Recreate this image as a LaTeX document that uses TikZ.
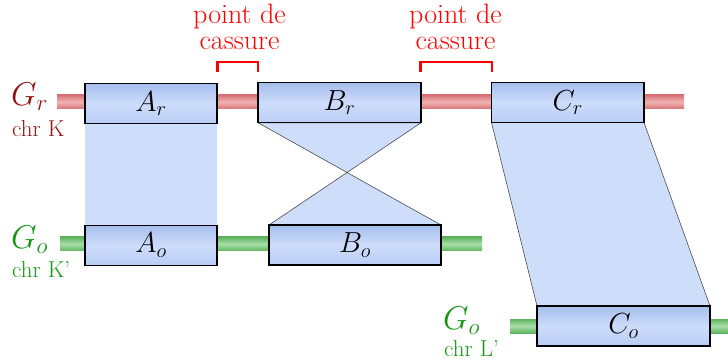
\RequirePackage{fix-cm}
\documentclass[tikz,border=0pt]{standalone}
\usepackage{tikz}
\definecolor{boxtop}{RGB}{165,190,238}
\definecolor{boxmid}{RGB}{205,220,250}
\definecolor{boxbot}{RGB}{185,205,245}
\definecolor{synfill}{RGB}{206,221,250}
\definecolor{redtop}{RGB}{215,115,120}
\definecolor{redmid}{RGB}{240,178,178}
\definecolor{grtop}{RGB}{95,180,95}
\definecolor{grmid}{RGB}{170,222,170}
\definecolor{darkred}{RGB}{145,20,20}
\definecolor{darkgreen}{RGB}{20,150,20}
\tikzset{
  gbox/.style={draw=black, line width=1.2pt, inner sep=0pt, outer sep=0pt,
    minimum height=40pt, top color=boxtop, bottom color=boxbot, middle color=boxmid,
    font=\fontsize{29}{29}\selectfont},
  ghost/.style={inner sep=0pt, outer sep=0pt, minimum height=40pt},
  synt/.style={fill=synfill, draw=black!70, line width=0.6pt},
  redbar/.style={draw=none, top color=redtop, bottom color=redtop, middle color=redmid},
  greenbar/.style={draw=none, top color=grtop, bottom color=grtop, middle color=grmid},
  brk/.style={red, line width=2.4pt},
  cass/.style={red, align=center, inner sep=0pt, font=\fontsize{28}{25.5}\selectfont},
  glab/.style={anchor=west, inner sep=0pt, font=\fontsize{33}{33}\selectfont},
  chrlab/.style={anchor=base west, inner sep=0pt, font=\fontsize{23}{23}\selectfont},
}
\begin{document}
\begin{tikzpicture}[x=1pt,y=-1pt]
\useasboundingbox (0,0) rectangle (728,363);
% bars
\fill[redbar] (57,95) rectangle (684,109);
\fill[greenbar] (60,237) rectangle (482,251);
\fill[greenbar] (510,319) rectangle (728,333);
% box frames (positions)
\node[ghost, minimum width=132pt] (Ar) at (151,103.5) {};
\node[ghost, minimum width=163pt] (Br) at (339.5,102.75) {};
\node[ghost, minimum width=152.5pt] (Cr) at (567.75,102.5) {};
\node[ghost, minimum width=132pt] (Ao) at (151,245.25) {};
\node[ghost, minimum width=172pt] (Bo) at (355,245) {};
\node[ghost, minimum width=173pt] (Co) at (623.5,326) {};
% synteny regions
\path[synt, draw=none] (Ar.south west) -- (Ar.south east) -- (Ao.north east) -- (Ao.north west) -- cycle;
\path[synt] (Br.south west) -- (Bo.north east) -- (Bo.north west) -- (Br.south east) -- cycle;
\path[synt] (Cr.south west) -- (Cr.south east) -- (Co.north east) -- (Co.north west) -- cycle;
% boxes
\node[gbox, minimum width=132pt] at (Ar) {$A_r$};
\node[gbox, minimum width=163pt] at (Br) {$B_r$};
\node[gbox, minimum width=152.5pt] at (Cr) {$C_r$};
\node[gbox, minimum width=132pt] at (Ao) {$A_o$};
\node[gbox, minimum width=172pt] at (Bo) {$B_o$};
\node[gbox, minimum width=173pt] at (Co) {$C_o$};
% breakpoints
\coordinate (b1a) at (217.5,72);
\coordinate (b1b) at (258,72);
\coordinate (b2a) at (420.5,72);
\coordinate (b2b) at (492,72);
\draw[brk] (b1a) -- ++(0,-10) -| (b1b);
\draw[brk] (b2a) -- ++(0,-10) -| (b2b);
\node[cass] (c1) at (239.5,27) {point de\\cassure};
\node[cass] (c2) at (455.5,27) {point de\\cassure};
% genome labels
\node[glab, text=darkred] (gr) at (11,97) {$G_r$};
\node[chrlab, text=darkred] (ck) at (12,137) {chr K};
\node[glab, text=darkgreen] (go1) at (11,240) {$G_o$};
\node[chrlab, text=darkgreen] (ck2) at (12,278) {chr K'};
\node[glab, text=darkgreen] (go2) at (443,321) {$G_o$};
\node[chrlab, text=darkgreen] (cl) at (444,356) {chr L'};
\end{tikzpicture}
\end{document}
